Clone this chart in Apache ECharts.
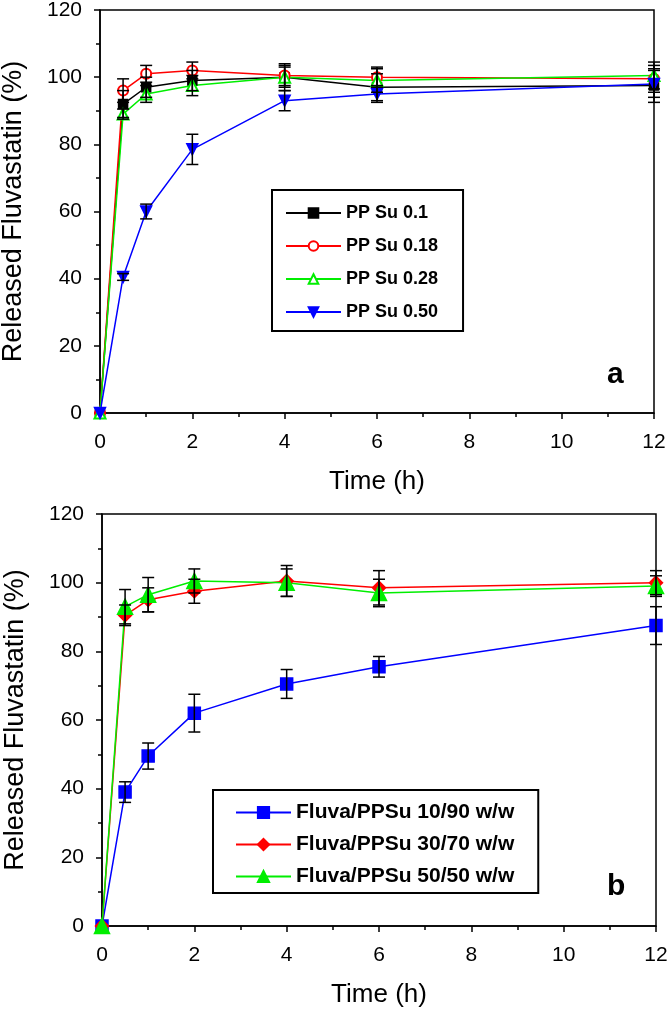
<!DOCTYPE html>
<html>
<head>
<meta charset="utf-8">
<script src="https://cdn.jsdelivr.net/npm/echarts@6/dist/echarts.min.js"></script>
<style>
html,body{margin:0;padding:0;background:#fff;}
#chart{width:667px;height:1012px;}
</style>
</head>
<body>
<div id="chart"></div>
<script>
// ---- data ----
const time = [0, 0.5, 1, 2, 4, 6, 12];
const xTicks = [0, 2, 4, 6, 8, 10, 12];
const yTicks = [0, 20, 40, 60, 80, 100, 120];

// panel a
const namesA = ['PP Su 0.1', 'PP Su 0.18', 'PP Su 0.28', 'PP Su 0.50'];
const ppsu010 = [0, 92, 97, 99, 100, 97, 97.5];
const ppsu018 = [0, 96, 101, 102, 100.5, 100, 99.5];
const ppsu028 = [0, 89, 95, 97.5, 100, 99, 100.5];
const ppsu050 = [0, 40.5, 60, 78.5, 93, 95, 98];
const errA010 = [0, 4, 3, 3, 4, 4, 5];
const errA018 = [0, 3.5, 2.5, 2.5, 3, 3, 4];
const errA028 = [0, 1.5, 2.5, 3, 3, 3.5, 4];
const errA050 = [0, 1, 2.2, 4.5, 3, 2.5, 4];

// panel b
const namesB = ['Fluva/PPSu 10/90 w/w', 'Fluva/PPSu 30/70 w/w', 'Fluva/PPSu 50/50 w/w'];
const fluva1090 = [0, 39, 49.5, 62, 70.5, 75.5, 87.5];
const fluva3070 = [0, 90.5, 95, 97.5, 100.5, 98.5, 100];
const fluva5050 = [0, 93, 96.5, 100.5, 100, 97, 99];
const errB1090 = [0, 3, 3.8, 5.5, 4.2, 3, 5.5];
const errB3070 = [0, 3, 3.5, 3.5, 4.5, 5, 3.5];
const errB5050 = [0, 5, 5, 3.5, 4, 4, 3];

// ---- build ----
const FONT = '"Liberation Sans", Arial, Helvetica, sans-serif';
const chart = echarts.init(document.getElementById('chart'), null, {renderer: 'canvas'});

function pairs(vals) { return time.map((t, i) => [t, vals[i]]); }
function errData(vals, errs) {
  const out = [];
  time.forEach((t, i) => { if (errs[i] > 0) out.push([t, vals[i] - errs[i], vals[i] + errs[i]]); });
  return out;
}
function errRender(params, api) {
  const x = api.value(0), lo = api.value(1), hi = api.value(2);
  const a = api.coord([x, lo]), b = api.coord([x, hi]);
  const hw = 6;
  const st = {stroke: '#000', lineWidth: 1.5};
  return {type: 'group', children: [
    {type: 'line', shape: {x1: a[0], y1: a[1], x2: b[0], y2: b[1]}, style: st},
    {type: 'line', shape: {x1: a[0] - hw, y1: a[1], x2: a[0] + hw, y2: a[1]}, style: st},
    {type: 'line', shape: {x1: b[0] - hw, y1: b[1], x2: b[0] + hw, y2: b[1]}, style: st}
  ]};
}
function errSeries(vals, errs, idx) {
  return {type: 'custom', xAxisIndex: idx, yAxisIndex: idx, renderItem: errRender,
    data: errData(vals, errs), encode: {x: 0, y: [1, 2]}, z: 3, silent: true};
}
function lineSeries(name, vals, idx, color, symbol, size, extra) {
  return Object.assign({
    type: 'line', name: name, xAxisIndex: idx, yAxisIndex: idx, data: pairs(vals),
    symbol: symbol, symbolSize: size, color: color,
    lineStyle: {color: color, width: 1.5},
    itemStyle: {color: color, borderColor: color, borderWidth: 1.5},
    z: 2
  }, extra || {});
}

function xAxis(idx) {
  return {type: 'value', gridIndex: idx, min: 0, max: 12, interval: 2,
    name: 'Time (h)', nameLocation: 'middle', nameGap: 56,
    nameTextStyle: {fontFamily: FONT, fontSize: 26, color: '#000'},
    axisLine: {show: true, onZero: false, lineStyle: {color: '#000', width: 1.5}},
    axisTick: {show: true, inside: false, length: 6, lineStyle: {color: '#000', width: 1.5}},
    minorTick: {show: true, splitNumber: 2, length: 4, lineStyle: {color: '#000', width: 1.5}},
    axisLabel: {fontFamily: FONT, fontSize: 21, color: '#000', margin: 19,
      formatter: v => xTicks.includes(v) ? String(v) : ''},
    splitLine: {show: false}};
}
function yAxis(idx) {
  return {type: 'value', gridIndex: idx, min: 0, max: 120, interval: 20,
    name: 'Released Fluvastatin (%)', nameLocation: 'middle', nameGap: 73, nameRotate: 90,
    nameTextStyle: {fontFamily: FONT, fontSize: 27, color: '#000'},
    axisLine: {show: true, onZero: false, lineStyle: {color: '#000', width: 1.5}},
    axisTick: {show: true, inside: false, length: 6, lineStyle: {color: '#000', width: 1.5}},
    minorTick: {show: true, splitNumber: 2, length: 4, lineStyle: {color: '#000', width: 1.5}},
    axisLabel: {fontFamily: FONT, fontSize: 21, color: '#000', margin: 18,
      formatter: v => yTicks.includes(v) ? String(v) : ''},
    splitLine: {show: false}};
}

const option = {
  animation: false,
  backgroundColor: '#fff',
  grid: [
    {left: 100, top: 10, width: 554, height: 403, containLabel: false, outerBoundsMode: 'none',
      show: true, borderColor: '#000', borderWidth: 1.5, backgroundColor: 'transparent'},
    {left: 102, top: 514, width: 554, height: 412, containLabel: false, outerBoundsMode: 'none',
      show: true, borderColor: '#000', borderWidth: 1.5, backgroundColor: 'transparent'}
  ],
  xAxis: [xAxis(0), xAxis(1)],
  yAxis: [yAxis(0), yAxis(1)],
  legend: [
    {data: namesA, orient: 'vertical', left: 272, top: 190, itemWidth: 55, itemHeight: 12, itemGap: 15,
      padding: [14, 25, 10, 13], borderColor: '#000', borderWidth: 2, backgroundColor: '#fff',
      textStyle: {fontFamily: FONT, fontSize: 18, fontWeight: 'bold', color: '#000'}, selectedMode: false},
    {data: namesB, orient: 'vertical', left: 213, top: 790, itemWidth: 55, itemHeight: 14, itemGap: 11,
      padding: [12, 24, 6, 22], borderColor: '#000', borderWidth: 2, backgroundColor: '#fff',
      textStyle: {fontFamily: FONT, fontSize: 21, fontWeight: 'bold', color: '#000'}, selectedMode: false}
  ],
  graphic: [
    {type: 'text', left: 607, top: 360, style: {text: 'a', font: 'bold 30px ' + FONT, fill: '#000'}},
    {type: 'text', left: 607, top: 872, style: {text: 'b', font: 'bold 30px ' + FONT, fill: '#000'}}
  ],
  series: [
    lineSeries(namesA[0], ppsu010, 0, '#000000', 'rect', 9),
    lineSeries(namesA[1], ppsu018, 0, '#ff0000', 'emptyCircle', 10),
    lineSeries(namesA[2], ppsu028, 0, '#00ee00', 'emptyTriangle', 11),
    lineSeries(namesA[3], ppsu050, 0, '#0000ff', 'triangle', 11, {symbolRotate: 180}),
    errSeries(ppsu010, errA010, 0),
    errSeries(ppsu018, errA018, 0),
    errSeries(ppsu028, errA028, 0),
    errSeries(ppsu050, errA050, 0),
    lineSeries(namesB[0], fluva1090, 1, '#0000ff', 'rect', 12),
    lineSeries(namesB[1], fluva3070, 1, '#ff0000', 'diamond', 13),
    lineSeries(namesB[2], fluva5050, 1, '#00ee00', 'triangle', 15),
    errSeries(fluva1090, errB1090, 1),
    errSeries(fluva3070, errB3070, 1),
    errSeries(fluva5050, errB5050, 1)
  ]
};
chart.setOption(option);
</script>
</body>
</html>
